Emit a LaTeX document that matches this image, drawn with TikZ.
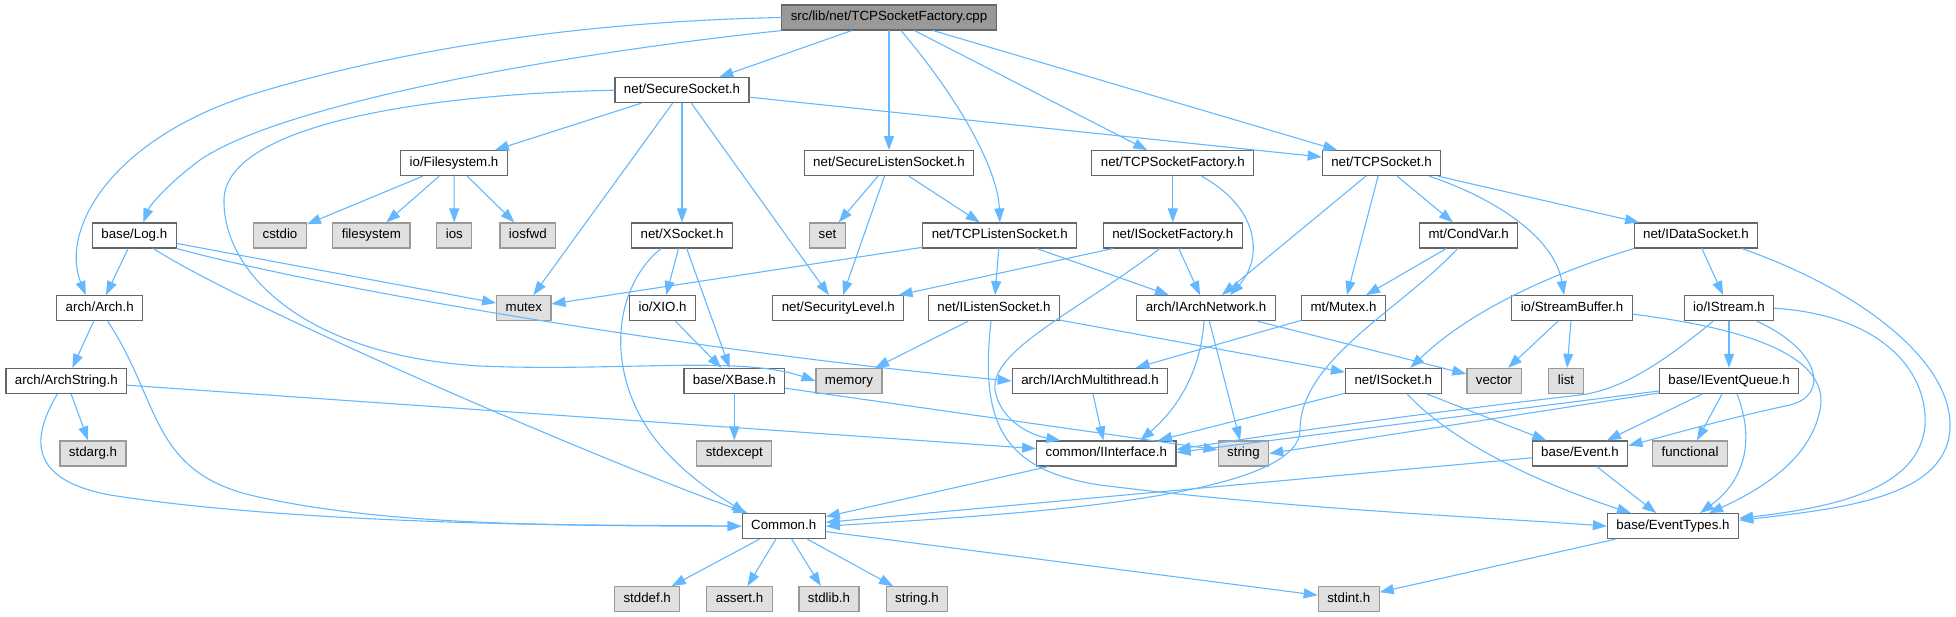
\documentclass[tikz,border=0pt]{standalone}
\usepackage{fontspec}
\setmainfont{Liberation Sans}
\usetikzlibrary{arrows.meta}

\definecolor{edgeblue}{HTML}{63B8FF}
\definecolor{boxline}{HTML}{666666}
\definecolor{sysline}{HTML}{999999}
\definecolor{sysfill}{HTML}{E0E0E0}
\definecolor{rootfill}{HTML}{999999}

\tikzset{
  hdr/.style={draw=boxline, fill=white, line width=1.2pt, minimum height=25pt,
    inner xsep=9pt, inner ysep=0pt, text height=9.6pt, text depth=2.8pt,
    font=\fontsize{13.3}{15}\selectfont},
  sys/.style={hdr, draw=sysline, fill=sysfill},
  root/.style={hdr, fill=rootfill},
  dep/.style={draw=edgeblue, line width=1.1pt, -{Triangle[length=14pt,width=10pt]}}
}

\begin{document}
\begin{tikzpicture}[x=1pt, y=-1pt, line cap=round]
  \useasboundingbox (0,0) rectangle (1956,617);

  % rows 1-3
  \node[root] (cpp) at (889,17.5) {src/lib/net/TCPSocketFactory.cpp};
  \node[hdr] (secsock) at (682,90.2) {net/SecureSocket.h};
  \node[hdr] (fsys) at (454,163.2) {io/Filesystem.h};
  \node[hdr] (seclisten) at (889,163.2) {net/SecureListenSocket.h};
  \node[hdr] (tcpfacth) at (1172.8,163.2) {net/TCPSocketFactory.h};
  \node[hdr] (tcpsock) at (1381.5,163.2) {net/TCPSocket.h};

  % row 4
  \node[hdr] (log) at (134.3,235.5) {base/Log.h};
  \node[sys] (cstdio) at (280,235.5) {cstdio};
  \node[sys] (filesystem) at (371.4,235.5) {filesystem};
  \node[sys] (ios) at (454.3,235.5) {ios};
  \node[sys] (iosfwd) at (527.8,235.5) {iosfwd};
  \node[hdr] (xsock) at (682,235.5) {net/XSocket.h};
  \node[sys] (set) at (827.5,235.5) {set};
  \node[hdr] (tcplisten) at (999.8,235.5) {net/TCPListenSocket.h};
  \node[hdr] (isockfact) at (1172.8,235.5) {net/ISocketFactory.h};
  \node[hdr] (condvar) at (1468.7,235.5) {mt/CondVar.h};
  \node[hdr] (idatasock) at (1696,235.5) {net/IDataSocket.h};

  % row 5
  \node[hdr] (arch) at (99.7,308.2) {arch/Arch.h};
  \node[sys] (mutex) at (523.8,308.2) {mutex};
  \node[hdr] (xio) at (662.6,308.2) {io/XIO.h};
  \node[hdr] (seclevel) at (838.3,308.2) {net/SecurityLevel.h};
  \node[hdr] (ilisten) at (994,308.2) {net/IListenSocket.h};
  \node[hdr] (iarchnet) at (1206,308.2) {arch/IArchNetwork.h};
  \node[hdr] (mtmutex) at (1343.5,308.2) {mt/Mutex.h};
  \node[hdr] (streambuf) at (1572,308.2) {io/StreamBuffer.h};
  \node[hdr] (istream) at (1729,308.2) {io/IStream.h};

  % row 6
  \node[hdr] (archstr) at (66.3,381) {arch/ArchString.h};
  \node[hdr] (xbase) at (734.3,381) {base/XBase.h};
  \node[sys] (memory) at (849,381) {memory};
  \node[hdr] (iarchmt) at (1090,381) {arch/IArchMultithread.h};
  \node[hdr] (isock) at (1393.3,381) {net/ISocket.h};
  \node[sys] (vector) at (1494,381) {vector};
  \node[sys] (list) at (1566,381) {list};
  \node[hdr] (ieventq) at (1729,381) {base/IEventQueue.h};

  % row 7
  \node[sys] (stdarg) at (93,453.5) {stdarg.h};
  \node[sys] (stdexcept) at (734.3,453.5) {stdexcept};
  \node[hdr] (iiface) at (1106.3,453.5) {common/IInterface.h};
  \node[sys] (string) at (1243.4,453.5) {string};
  \node[hdr] (event) at (1580,453.5) {base/Event.h};
  \node[sys] (functional) at (1690,453.5) {functional};

  % rows 8-9
  \node[hdr] (common) at (783.7,526.2) {Common.h};
  \node[hdr] (evtypes) at (1673,526.2) {base/EventTypes.h};
  \node[sys] (stddef) at (647.2,599.2) {stddef.h};
  \node[sys] (assert) at (739.5,599.2) {assert.h};
  \node[sys] (stdlib) at (829,599.2) {stdlib.h};
  \node[sys] (stringh) at (917,599.2) {string.h};
  \node[sys] (stdint) at (1348.7,599.2) {stdint.h};

  % straight includes
  \foreach \a/\b in {cpp/secsock, cpp/seclisten, cpp/tcpfacth, cpp/tcpsock,
      secsock/fsys, secsock/mutex, secsock/xsock, secsock/seclevel, secsock/tcpsock,
      fsys/cstdio, fsys/filesystem, fsys/ios, fsys/iosfwd,
      log/arch, log/mutex, arch/archstr, archstr/stdarg, archstr/iiface,
      xsock/xio, xsock/xbase, xio/xbase, xbase/stdexcept, xbase/string,
      seclisten/set, seclisten/seclevel, seclisten/tcplisten,
      tcplisten/mutex, tcplisten/ilisten, tcplisten/iarchnet,
      tcpfacth/isockfact, isockfact/seclevel, isockfact/iarchnet,
      ilisten/memory, ilisten/isock, iarchnet/vector, iarchnet/string,
      mtmutex/iarchmt, condvar/mtmutex,
      tcpsock/iarchnet, tcpsock/mtmutex, tcpsock/condvar, tcpsock/idatasock,
      idatasock/istream, streambuf/vector, streambuf/list,
      istream/ieventq, ieventq/event, ieventq/functional,
      isock/iiface, isock/event, event/common, event/evtypes,
      evtypes/stdint, iarchmt/iiface, iiface/common,
      common/stddef, common/assert, common/stdlib, common/stringh, common/stdint}
    \draw[dep] (\a) -- (\b);

  % curved includes, left part
  \draw[dep] (cpp.west) .. controls (560,22) and (380,55) .. (250,95)
    .. controls (110,140) and (60,230) .. ([xshift=-14pt]arch.north);
  \draw[dep] (cpp.south west) .. controls (550,55) and (280,105) .. (200,160)
    .. controls (170,182) and (150,205) .. ([xshift=9pt]log.north);
  \draw[dep] ([xshift=12pt]cpp.south) .. controls (960,100) and (998,170) .. (tcplisten.north);
  \draw[dep] (secsock.west) .. controls (400,95) and (225,130) .. (224,200)
    .. controls (223,270) and (300,355) .. (480,366)
    .. controls (620,372) and (740,355) .. (memory.west);
  \draw[dep] ([xshift=19pt]log.south) .. controls (250,310) and (600,460) .. ([xshift=6pt]common.north west);
  \draw[dep] (log.south east) .. controls (330,290) and (700,352) .. (iarchmt.west);
  \draw[dep] ([xshift=8pt]arch.south) .. controls (160,400) and (150,470) .. (250,495)
    .. controls (400,530) and (600,524) .. (common.west);
  \draw[dep] ([xshift=-9pt]archstr.south) .. controls (30,440) and (30,480) .. (110,495)
    .. controls (300,525) and (600,526) .. (common.west);
  \draw[dep] ([xshift=-21pt]xsock.south) .. controls (610,290) and (605,380) .. (660,445)
    .. controls (690,480) and (725,500) .. ([xshift=4pt]common.north west);

  % curved includes, middle part
  \draw[dep] ([xshift=29pt]tcpfacth.south) .. controls (1262,210) and (1262,260) .. ([xshift=24pt]iarchnet.north);
  \draw[dep] ([xshift=-13pt]isockfact.south) .. controls (1080,310) and (990,350) .. (995,390)
    .. controls (1000,420) and (1030,435) .. ([xshift=-46pt]iiface.north);
  \draw[dep] ([xshift=-3pt]ilisten.south) .. controls (980,420) and (1000,470) .. (1100,485)
    .. controls (1300,510) and (1500,518) .. (evtypes.west);
  \draw[dep] ([xshift=-2pt]iarchnet.south) .. controls (1200,380) and (1170,415) .. ([xshift=34pt]iiface.north);
  \draw[dep] ([xshift=-11pt]condvar.south) .. controls (1400,310) and (1300,360) .. (1300,430)
    .. controls (1300,500) and (1000,515) .. (common.east);

  % curved includes, right part
  \draw[dep] ([xshift=48pt]tcpsock.south) .. controls (1500,200) and (1555,240) .. ([xshift=-8pt]streambuf.north);
  \draw[dep] (idatasock.south west) .. controls (1530,280) and (1460,320) .. ([xshift=17pt]isock.north);
  \draw[dep] ([xshift=46pt]idatasock.south) .. controls (1860,290) and (1950,360) .. (1950,425)
    .. controls (1950,495) and (1850,508) .. ([yshift=6pt]evtypes.east);
  \draw[dep] (istream.east) .. controls (1880,315) and (1928,370) .. (1925,425)
    .. controls (1920,490) and (1830,508) .. ([yshift=8pt]evtypes.east);
  \draw[dep] ([yshift=-6pt]streambuf.east) .. controls (1760,330) and (1830,360) .. (1820,410)
    .. controls (1810,460) and (1760,490) .. ([xshift=36pt]evtypes.north);
  \draw[dep] ([xshift=-16pt]istream.south) .. controls (1660,365) and (1620,390) .. (1580,395)
    .. controls (1450,410) and (1300,430) .. ([yshift=4pt]iiface.east);
  \draw[dep] ([xshift=28pt]istream.south) .. controls (1820,350) and (1830,395) .. (1790,405)
    .. controls (1720,420) and (1670,435) .. ([yshift=8pt]event.east);
  \draw[dep] ([yshift=-10pt]ieventq.west) -- ([yshift=1pt]iiface.east);
  \draw[dep] ([yshift=-12pt]ieventq.west) -- (string.east);
  \draw[dep] ([xshift=8pt]ieventq.south) .. controls (1755,440) and (1745,480) .. ([xshift=27pt]evtypes.north);
  \draw[dep] ([xshift=14pt]isock.south) .. controls (1450,440) and (1530,480) .. ([xshift=-42pt]evtypes.north);
\end{tikzpicture}
\end{document}
